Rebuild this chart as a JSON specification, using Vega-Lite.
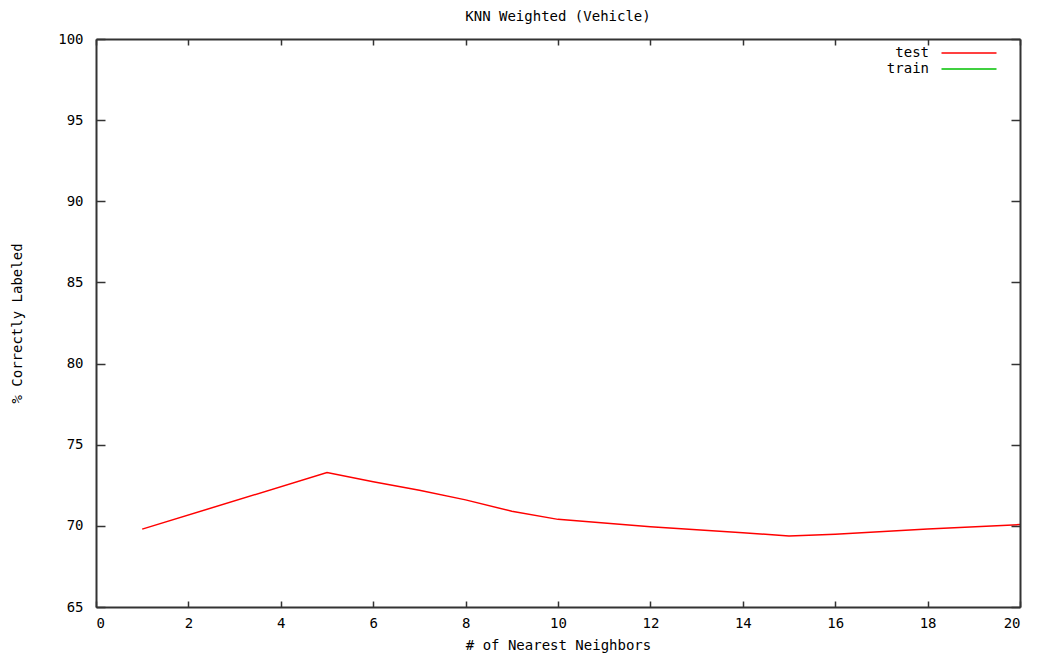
{
  "$schema": "https://vega.github.io/schema/vega-lite/v6.json",
  "width": 924,
  "height": 568,
  "autosize": {"type": "none"},
  "padding": {"left": 96, "top": 39, "right": 19, "bottom": 51},
  "background": "white",
  "title": {
    "text": "KNN Weighted (Vehicle)",
    "font": "DejaVu Sans Mono",
    "fontSize": 14,
    "fontWeight": "normal",
    "color": "black",
    "anchor": "middle",
    "offset": 8
  },
  "config": {
    "view": {"stroke": null},
    "axis": {
      "grid": false,
      "domainColor": "#333333",
      "domainWidth": 2,
      "tickColor": "#333333",
      "tickWidth": 1.5,
      "labelFont": "DejaVu Sans Mono",
      "labelFontSize": 14,
      "labelColor": "black",
      "titleFont": "DejaVu Sans Mono",
      "titleFontSize": 14,
      "titleFontWeight": "normal",
      "titleColor": "black",
      "zindex": 2
    },
    "axisX": {"tickSize": 6},
    "axisY": {"tickSize": 9}
  },
  "data": {
    "values": [
      {"k": 1, "pct": 69.8, "series": "test"},
      {"k": 5, "pct": 73.28, "series": "test"},
      {"k": 6, "pct": 72.72, "series": "test"},
      {"k": 7, "pct": 72.2, "series": "test"},
      {"k": 8, "pct": 71.6, "series": "test"},
      {"k": 9, "pct": 70.9, "series": "test"},
      {"k": 10, "pct": 70.4, "series": "test"},
      {"k": 12, "pct": 69.95, "series": "test"},
      {"k": 14, "pct": 69.58, "series": "test"},
      {"k": 15, "pct": 69.38, "series": "test"},
      {"k": 16, "pct": 69.48, "series": "test"},
      {"k": 18, "pct": 69.8, "series": "test"},
      {"k": 20, "pct": 70.08, "series": "test"},
      {"k": 1, "pct": 100, "series": "train"},
      {"k": 5, "pct": 100, "series": "train"},
      {"k": 10, "pct": 100, "series": "train"},
      {"k": 15, "pct": 100, "series": "train"},
      {"k": 20, "pct": 100, "series": "train"}
    ]
  },
  "layer": [
    {
      "mark": {"type": "line", "strokeWidth": 1.5, "clip": true},
      "encoding": {
        "x": {
          "field": "k", "type": "quantitative",
          "scale": {"domain": [0, 20], "nice": false, "zero": false},
          "axis": {"orient": "bottom", "zindex": 2, "values": [0,2,4,6,8,10,12,14,16,18,20], "ticks": false, "title": "# of Nearest Neighbors", "labelPadding": 9, "titlePadding": 8}
        },
        "y": {
          "field": "pct", "type": "quantitative",
          "scale": {"domain": [65, 100], "nice": false, "zero": false},
          "axis": {"orient": "left", "zindex": 2, "values": [65,70,75,80,85,90,95,100], "ticks": false, "title": "% Correctly Labeled", "labelPadding": 13, "titlePadding": 33}
        },
        "color": {
          "field": "series", "type": "nominal",
          "scale": {"domain": ["test", "train"], "range": ["#ff0000", "#00c000"]},
          "legend": {
            "title": null,
            "orient": "none",
            "legendX": 866,
            "legendY": 7,
            "padding": 0,
            "symbolType": "M-5.5,0H5.5",
            "symbolSize": 100,
            "symbolStrokeWidth": 1.5,
            "labelAlign": "right",
            "labelOffset": -47,
            "labelFont": "DejaVu Sans Mono",
            "labelFontSize": 14,
            "labelColor": "black",
            "rowPadding": 2
          }
        }
      }
    },
    {
      "mark": {"type": "line", "opacity": 0},
      "encoding": {
        "x": {
          "field": "k", "type": "quantitative",
          "axis": {"orient": "top", "zindex": 2, "offset": -568, "values": [0,2,4,6,8,10,12,14,16,18,20], "labels": false, "domain": false, "title": null}
        },
        "y": {
          "field": "pct", "type": "quantitative",
          "axis": {"orient": "right", "zindex": 2, "offset": -924, "values": [65,70,75,80,85,90,95,100], "labels": false, "domain": false, "title": null}
        }
      }
    },
    {
      "mark": {"type": "line", "opacity": 0},
      "encoding": {
        "x": {
          "field": "k", "type": "quantitative",
          "axis": {"orient": "bottom", "zindex": 2, "offset": -568, "values": [0,2,4,6,8,10,12,14,16,18,20], "labels": false, "title": null}
        },
        "y": {
          "field": "pct", "type": "quantitative",
          "axis": {"orient": "left", "zindex": 2, "offset": -924, "values": [65,70,75,80,85,90,95,100], "labels": false, "title": null}
        }
      }
    }
  ],
  "resolve": {"axis": {"x": "independent", "y": "independent"}}
}
